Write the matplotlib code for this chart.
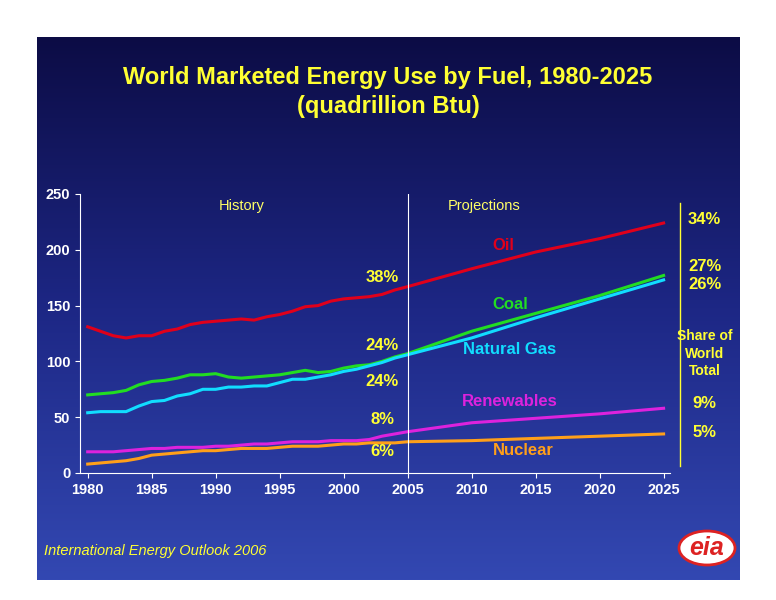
import numpy as np
import matplotlib.pyplot as plt
from matplotlib.patches import Ellipse
from matplotlib.colors import LinearSegmentedColormap

plt.rcParams['font.family'] = ['Liberation Sans', 'DejaVu Sans']

years_hist = list(range(1980, 2005))
years_proj = [2005, 2010, 2015, 2020, 2025]
years = years_hist + years_proj

oil = [131, 127, 123, 121, 123, 123, 127, 129, 133, 135, 136, 137, 138, 137, 140, 142,
       145, 149, 150, 154, 156, 157, 158, 160, 164, 167, 183, 198, 210, 224]
coal = [70, 71, 72, 74, 79, 82, 83, 85, 88, 88, 89, 86, 85, 86, 87, 88,
        90, 92, 90, 91, 94, 96, 97, 100, 104, 107, 127, 143, 159, 177]
gas = [54, 55, 55, 55, 60, 64, 65, 69, 71, 75, 75, 77, 77, 78, 78, 81,
       84, 84, 86, 88, 91, 93, 96, 99, 103, 106, 121, 139, 156, 173]
renew = [19, 19, 19, 20, 21, 22, 22, 23, 23, 23, 24, 24, 25, 26, 26, 27,
         28, 28, 28, 29, 29, 29, 30, 33, 35, 37, 45, 49, 53, 58]
nuclear = [8, 9, 10, 11, 13, 16, 17, 18, 19, 20, 20, 21, 22, 22, 22, 23,
           24, 24, 24, 25, 26, 26, 27, 27, 27, 28, 29, 31, 33, 35]

fig = plt.figure(figsize=(7.76, 6), dpi=100, facecolor='white')

# gradient panel
bg = fig.add_axes([37/776, 20/600, 703/776, 543/600])
grad = np.linspace(0, 1, 256).reshape(-1, 1)
cmap = LinearSegmentedColormap.from_list('bg', ['#0c0c45', '#1d2785', '#3348b2'])
bg.imshow(grad, aspect='auto', cmap=cmap, extent=[0, 1, 0, 1])
bg.axis('off')

fig.text(0.5, 0.86, 'World Marketed Energy Use by Fuel, 1980-2025', color='#ffff33',
         fontsize=17, fontweight='bold', ha='center')
fig.text(0.5, 0.812, '(quadrillion Btu)', color='#ffff33',
         fontsize=17, fontweight='bold', ha='center')

ax = fig.add_axes([80/776, 1 - 473/600, 590/776, 279/600])
ax.patch.set_alpha(0)
ax.plot(years, oil, color='#e0001b', lw=2.2)
ax.plot(years, coal, color='#22dd22', lw=2.2)
ax.plot(years, gas, color='#11ddff', lw=2.2)
ax.plot(years, renew, color='#dd22dd', lw=2.2)
ax.plot(years, nuclear, color='#ff9f1a', lw=2.2)
ax.axvline(2005, color='white', lw=0.8)

ax.set_xlim(1979.4, 2025.5)
ax.set_ylim(0, 250)
ax.set_xticks(range(1980, 2026, 5))
ax.set_yticks(range(0, 251, 50))
for s in ['top', 'right']:
    ax.spines[s].set_visible(False)
for s in ['left', 'bottom']:
    ax.spines[s].set_color('white')
ax.tick_params(colors='white', labelsize=10.5, direction='out')
for lab in ax.get_xticklabels() + ax.get_yticklabels():
    lab.set_fontweight('bold')

ax.text(1992, 236, 'History', color='#ffff66', fontsize=10.5, ha='center')
ax.text(2011, 236, 'Projections', color='#ffff66', fontsize=10.5, ha='center')
ax.text(2012.5, 200, 'Oil', color='#e0001b', fontsize=12, fontweight='bold', ha='center')
ax.text(2013, 147, 'Coal', color='#22dd22', fontsize=12, fontweight='bold', ha='center')
ax.text(2013, 107, 'Natural Gas', color='#11ddff', fontsize=12, fontweight='bold', ha='center')
ax.text(2013, 60, 'Renewables', color='#dd22dd', fontsize=12, fontweight='bold', ha='center')
ax.text(2014, 16, 'Nuclear', color='#ff9f1a', fontsize=12, fontweight='bold', ha='center')
for y, t in [(171, '38%'), (110, '24%'), (78, '24%'), (44, '8%'), (15, '6%')]:
    ax.text(2003, y, t, color='#ffff33', fontsize=12, fontweight='bold', ha='center')
for y, t in [(223, '34%'), (181, '27%'), (165, '26%'), (58, '9%'), (32, '5%')]:
    ax.text(2028.2, y, t, color='#ffff33', fontsize=12, fontweight='bold', ha='center', clip_on=False)
ax.text(2028.2, 107, 'Share of\nWorld\nTotal', color='#ffff33', fontsize=10, fontweight='bold',
        ha='center', va='center', linespacing=1.3, clip_on=False)
ax.plot([2026.3, 2026.3], [6, 242], color='#ffff33', lw=1, clip_on=False)

fig.text(44/776, 1 - 555/600, 'International Energy Outlook 2006', color='#ffff33',
         fontsize=10.5, style='italic')
fig.patches.append(Ellipse((707/776, 1 - 548/600), 56/776, 34/600, transform=fig.transFigure,
                           facecolor='white', edgecolor='#dd2222', lw=2))
fig.text(707/776, 1 - 548/600, 'eia', color='#dd2222', fontsize=18, fontweight='bold',
         style='italic', ha='center', va='center')

fig.savefig('out.png', dpi=100, facecolor='white')
